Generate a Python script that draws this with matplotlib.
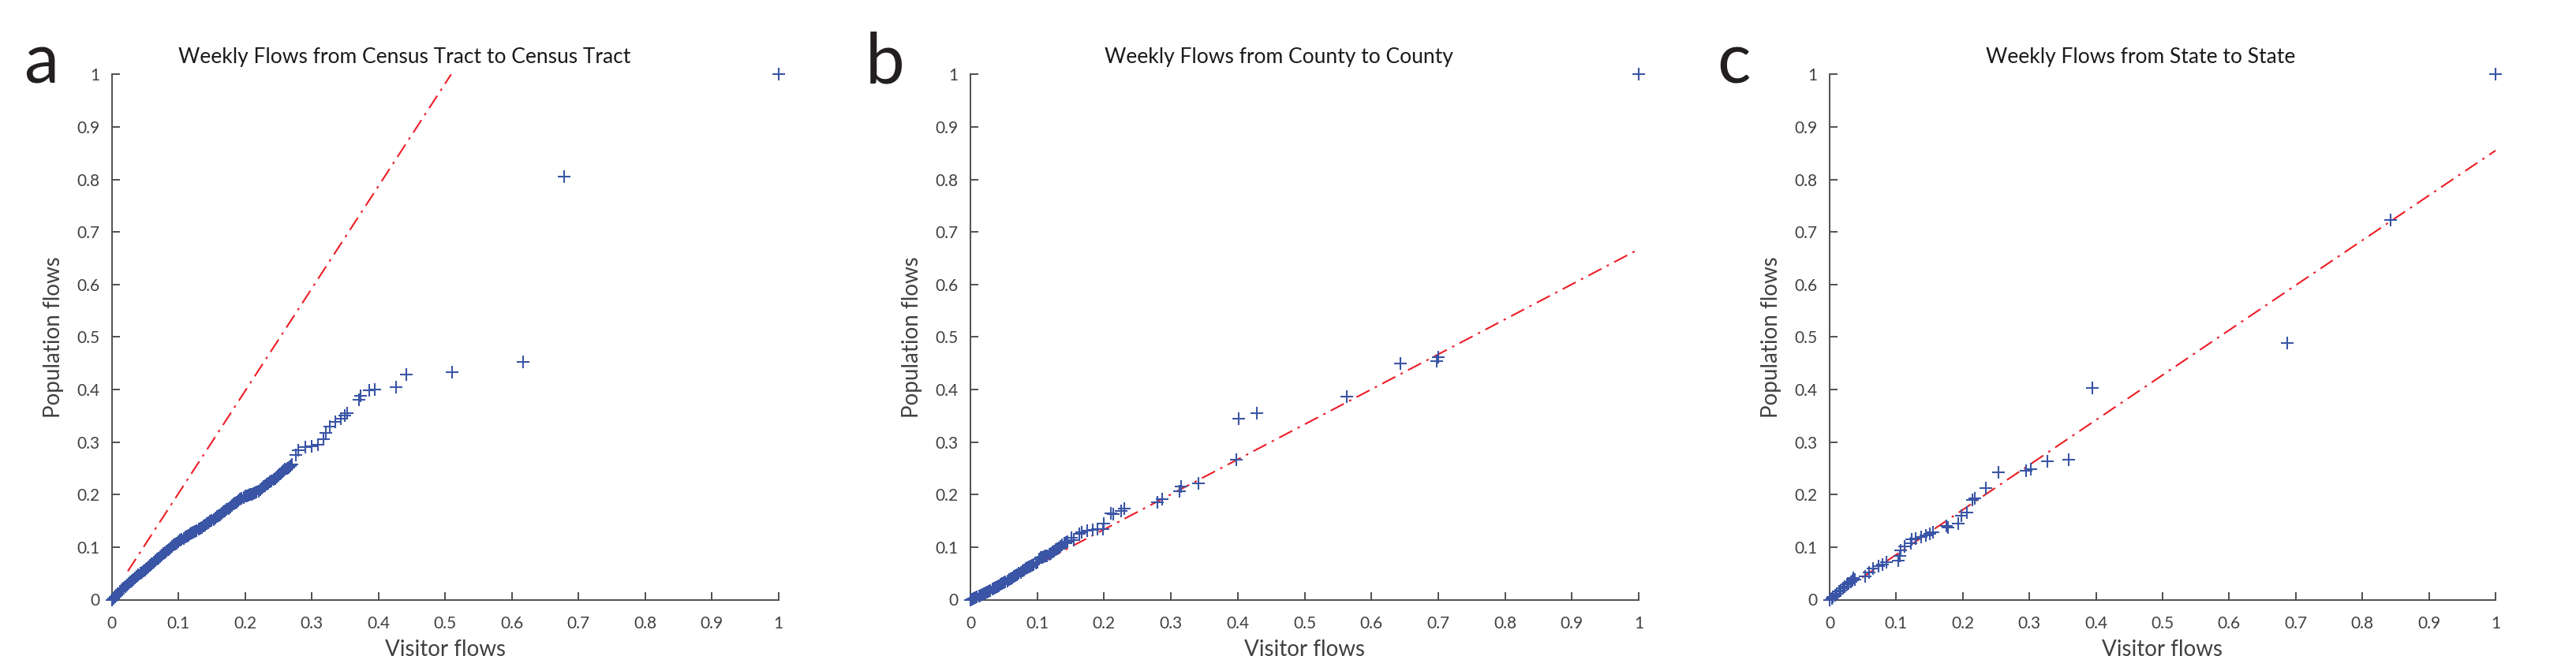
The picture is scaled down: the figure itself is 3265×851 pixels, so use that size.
import numpy as np
import matplotlib
matplotlib.use("Agg")
import matplotlib.pyplot as plt

plt.rcParams['font.family'] = ['Lato', 'DejaVu Sans']

# ---- data ----
titles = ['Weekly Flows from Census Tract to Census Tract',
          'Weekly Flows from County to County',
          'Weekly Flows from State to State']
panel_letters = ['a', 'b', 'c']
tick_vals = [0, 0.1, 0.2, 0.3, 0.4, 0.5, 0.6, 0.7, 0.8, 0.9, 1]
tick_labels = ['0', '0.1', '0.2', '0.3', '0.4', '0.5', '0.6', '0.7', '0.8', '0.9', '1']

# census tract -> census tract
tract_x = [0.0000, 0.0025, 0.0050, 0.0075, 0.0100, 0.0125, 0.0150, 0.0175, 0.0200, 0.0225,
           0.0250, 0.0275, 0.0300, 0.0325, 0.0350, 0.0375, 0.0400, 0.0425, 0.0450, 0.0475,
           0.0500, 0.0525, 0.0550, 0.0575, 0.0600, 0.0625, 0.0650, 0.0675, 0.0700, 0.0725,
           0.0750, 0.0775, 0.0800, 0.0825, 0.0850, 0.0875, 0.0900, 0.0925, 0.0950, 0.0975,
           0.1000, 0.1025, 0.1050, 0.1075, 0.1100, 0.1125, 0.1150, 0.1175, 0.1200, 0.1225,
           0.1250, 0.1275, 0.1300, 0.1325, 0.1350, 0.1375, 0.1400, 0.1425, 0.1450, 0.1475,
           0.1500, 0.1525, 0.1550, 0.1575, 0.1600, 0.1625, 0.1650, 0.1675, 0.1700, 0.1725,
           0.1750, 0.1775, 0.1800, 0.1825, 0.1850, 0.1875, 0.1900, 0.1925, 0.1950, 0.1975,
           0.2000, 0.2025, 0.2050, 0.2075, 0.2100, 0.2125, 0.2150, 0.2175, 0.2200, 0.2225,
           0.2250, 0.2275, 0.2300, 0.2325, 0.2350, 0.2375, 0.2400, 0.2425, 0.2450, 0.2475,
           0.2500, 0.2525, 0.2550, 0.2575, 0.2600, 0.2625, 0.2650, 0.2675, 0.2700,
           0.276, 0.280, 0.290, 0.300, 0.309, 0.3175, 0.321, 0.327, 0.335, 0.343,
           0.349, 0.353, 0.371, 0.373, 0.3865, 0.394, 0.426, 0.442, 0.511, 0.617,
           0.678, 1.000]
tract_y = [0.000, 0.003, 0.006, 0.009, 0.012, 0.016, 0.019, 0.022, 0.025, 0.028,
           0.031, 0.034, 0.036, 0.039, 0.042, 0.045, 0.047, 0.050, 0.052, 0.055,
           0.057, 0.060, 0.063, 0.066, 0.068, 0.071, 0.074, 0.077, 0.079, 0.082,
           0.085, 0.088, 0.090, 0.093, 0.096, 0.098, 0.101, 0.104, 0.106, 0.108,
           0.110, 0.113, 0.115, 0.117, 0.119, 0.121, 0.123, 0.125, 0.127, 0.128,
           0.130, 0.132, 0.134, 0.136, 0.138, 0.140, 0.142, 0.145, 0.147, 0.149,
           0.151, 0.153, 0.155, 0.158, 0.160, 0.162, 0.164, 0.167, 0.169, 0.172,
           0.174, 0.177, 0.179, 0.182, 0.184, 0.186, 0.188, 0.191, 0.193, 0.195,
           0.197, 0.198, 0.199, 0.200, 0.201, 0.202, 0.203, 0.205, 0.207, 0.210,
           0.212, 0.215, 0.217, 0.220, 0.222, 0.224, 0.226, 0.229, 0.231, 0.234,
           0.236, 0.239, 0.242, 0.245, 0.248, 0.250, 0.252, 0.255, 0.257,
           0.275, 0.285, 0.290, 0.292, 0.295, 0.305, 0.318, 0.330, 0.338, 0.345,
           0.350, 0.355, 0.380, 0.388, 0.398, 0.400, 0.405, 0.429, 0.433, 0.452,
           0.806, 1.000]
tract_fit_x = [0.024, 0.509]
tract_fit_y = [0.054, 1.000]

# county -> county
county_x = [0.0000, 0.0025, 0.0050, 0.0075, 0.0100, 0.0125, 0.0150, 0.0175, 0.0200, 0.0225,
            0.0250, 0.0275, 0.0300, 0.0325, 0.0350, 0.0375, 0.0400, 0.0425, 0.0450, 0.0475,
            0.0500, 0.0525, 0.0550, 0.0575, 0.0600, 0.0625, 0.0650, 0.0675, 0.0700, 0.0725,
            0.0750, 0.0775, 0.0800, 0.0825, 0.0850, 0.0875, 0.0900, 0.0925, 0.0950, 0.0975,
            0.1000, 0.1025, 0.1050, 0.1075, 0.1100, 0.1125, 0.1150, 0.1175, 0.1200, 0.1225,
            0.1250, 0.1275, 0.1300, 0.1325, 0.1350, 0.1375, 0.1400, 0.1425, 0.1450,
            0.151, 0.155, 0.163, 0.167, 0.175, 0.183, 0.190, 0.198, 0.200, 0.210,
            0.214, 0.226, 0.230, 0.280, 0.287, 0.313, 0.315, 0.341, 0.398, 0.402,
            0.429, 0.563, 0.643, 0.698, 0.700, 1.000]
county_y = [0.000, 0.0015, 0.003, 0.0045, 0.006, 0.0075, 0.009, 0.0105, 0.012, 0.0135,
            0.015, 0.0165, 0.018, 0.020, 0.022, 0.0235, 0.025, 0.027, 0.029, 0.031,
            0.033, 0.0345, 0.036, 0.038, 0.040, 0.042, 0.044, 0.046, 0.048, 0.050,
            0.052, 0.0545, 0.057, 0.059, 0.061, 0.0625, 0.064, 0.0655, 0.067, 0.070,
            0.072, 0.077, 0.080, 0.081, 0.082, 0.083, 0.084, 0.086, 0.088, 0.0905,
            0.093, 0.095, 0.097, 0.099, 0.101, 0.104, 0.107, 0.1085, 0.110,
            0.118, 0.113, 0.125, 0.129, 0.131, 0.133, 0.134, 0.135, 0.145, 0.165,
            0.163, 0.169, 0.173, 0.186, 0.191, 0.206, 0.216, 0.222, 0.267, 0.344,
            0.355, 0.387, 0.449, 0.454, 0.461, 1.000]
county_fit_x = [0.115, 1.000]
county_fit_y = [0.077, 0.667]

# state -> state
state_x = [0.000, 0.003, 0.005, 0.008, 0.011, 0.014, 0.017, 0.020, 0.023, 0.026,
           0.029, 0.032, 0.034, 0.036, 0.038, 0.0536, 0.0595, 0.0655, 0.073, 0.079,
           0.085, 0.103, 0.105, 0.107, 0.113, 0.1216, 0.1235, 0.1295, 0.137, 0.145,
           0.151, 0.155, 0.175, 0.178, 0.1927, 0.198, 0.2065, 0.2145, 0.218, 0.2342,
           0.254, 0.295, 0.302, 0.3265, 0.3585, 0.394, 0.687, 0.8425, 1.000]
state_y = [0.000, 0.002, 0.006, 0.009, 0.012, 0.0165, 0.018, 0.0215, 0.025, 0.029,
           0.031, 0.034, 0.037, 0.0415, 0.039, 0.044, 0.0515, 0.059, 0.064, 0.0665,
           0.0715, 0.074, 0.084, 0.094, 0.1015, 0.107, 0.115, 0.117, 0.120, 0.123,
           0.125, 0.129, 0.140, 0.138, 0.145, 0.160, 0.1655, 0.190, 0.1925, 0.2125,
           0.243, 0.245, 0.248, 0.263, 0.267, 0.403, 0.489, 0.723, 1.000]
state_fit_x = [0.049, 1.000]
state_fit_y = [0.042, 0.855]

panels = [(tract_x, tract_y, tract_fit_x, tract_fit_y),
          (county_x, county_y, county_fit_x, county_fit_y),
          (state_x, state_y, state_fit_x, state_fit_y)]

W, H = 3266, 851
fig = plt.figure(figsize=(W / 100, H / 100), dpi=100)

ax_left_px = [141.7, 1230, 2319]
ax_width_px = [845, 847, 844]
title_cx_px = [513, 1621, 2713]
letter_x_px = [30, 1097, 2176]
y0_px, y1_px = 760.5, 94.3

mark_col = '#3A55A5'
red_col = '#EE1C25'
axis_col = '#505050'
text_col = '#404040'

for i, (px, py, fx, fy) in enumerate(panels):
    ax = fig.add_axes([ax_left_px[i] / W, (H - y0_px) / H,
                       ax_width_px[i] / W, (y0_px - y1_px) / H])
    ax.plot(fx, fy, color=red_col, lw=1.5, dashes=(9, 3.6, 1.5, 3.6),
            zorder=2, clip_on=False)
    ax.plot(px, py, linestyle='none', marker='+', ms=11.5, mew=1.5,
            color=mark_col, zorder=4, clip_on=False)
    ax.set_xlim(0, 1)
    ax.set_ylim(0, 1)
    ax.set_xticks(tick_vals)
    ax.set_xticklabels(tick_labels)
    ax.set_yticks(tick_vals)
    ax.set_yticklabels(tick_labels)
    for s in ['top', 'right']:
        ax.spines[s].set_visible(False)
    for s in ['left', 'bottom']:
        ax.spines[s].set_color(axis_col)
        ax.spines[s].set_linewidth(1.4)
        ax.spines[s].set_zorder(3)
    ax.tick_params(axis='both', direction='in', length=7, width=1.4,
                   color=axis_col, labelcolor=text_col, labelsize=15)
    ax.tick_params(axis='x', pad=15)
    ax.tick_params(axis='y', pad=11)
    ax.set_xlabel('Visitor flows', fontsize=20, color=text_col)
    ax.set_ylabel('Population flows', fontsize=20, color=text_col)
    ax.xaxis.set_label_coords(0.5, -(811 - y0_px) / (y0_px - y1_px))
    ax.yaxis.set_label_coords(-(141.7 - 80.5) / ax_width_px[i], 0.5)
    ax.set_facecolor('none')

    fig.text(title_cx_px[i] / W, 1 - 80 / H, titles[i], ha='center',
             va='baseline', fontsize=19, color='#1a1a1a')
    fig.text(letter_x_px[i] / W, 1 - 105 / H, panel_letters[i], ha='left',
             va='baseline', fontsize=64, color='#231F20')

fig.savefig('out.png', dpi=100, facecolor='white')
